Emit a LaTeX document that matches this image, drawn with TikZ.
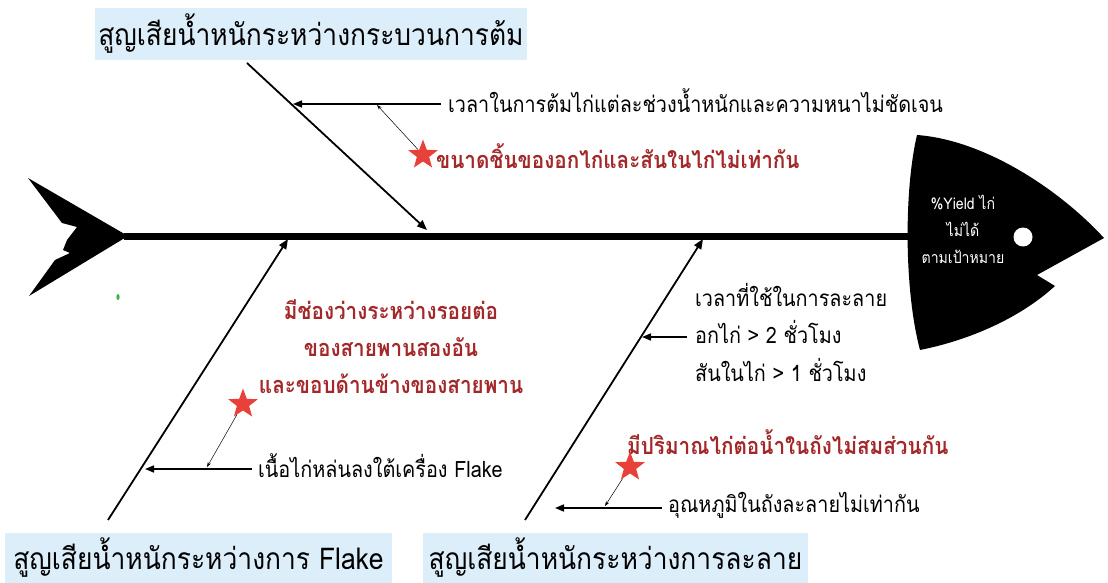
\documentclass[tikz,border=0pt]{standalone}
\usepackage{fontspec}
\usetikzlibrary{arrows.meta,shapes.geometric}
\newfontfamily\thai[Script=Thai,FakeStretch=0.88]{Loma}
\definecolor{boxblue}{HTML}{DDEEFB}
\definecolor{causered}{HTML}{A3282A}
\definecolor{starred}{HTML}{E8413A}
\definecolor{speck}{HTML}{3CB043}
\begin{document}
\begin{tikzpicture}[x=1pt,y=-1pt,
  titlebox/.style={fill=boxblue, inner sep=0pt, font=\thai\fontsize{30}{34}\selectfont},
  causetext/.style={anchor=west, inner sep=2pt, font=\thai\fontsize{22.5}{26}\selectfont},
  redtext/.style={inner sep=2pt, text=causered, font=\thai\bfseries\fontsize{23.5}{27}\selectfont},
  bone/.style={line width=1.8pt, -{Triangle[length=10pt,width=8pt]}},
  subarrow/.style={line width=1.6pt, -{Triangle[length=9pt,width=7pt]}},
  thinarrow/.style={line width=0.5pt, -{Stealth[length=5pt,width=3.5pt]}},
  redstar/.style={star, star points=5, star point ratio=2.4, fill=starred, inner sep=0pt, minimum size=31pt}]
\useasboundingbox (0,0) rectangle (1108,583);

% tail fin
\fill (28,178) -- (128,236) -- (29,296) -- (55,260) -- (70,253) -- (63,250)
  -- (67,240) -- (77,227) -- (62,223) -- cycle;
\fill[speck] (118,297) ellipse (1.6 and 3);

% backbone
\coordinate (spineL) at (124,236);
\coordinate (spineR) at (915,236);
\draw[line width=7pt] (spineL) -- (spineR);

% head
\fill (917,135) .. controls (985,140) and (1060,190) .. (1104,238)
  -- (1037,275) -- (1055,286)
  .. controls (1020,318) and (970,340) .. (920,350)
  .. controls (904,290) and (904,190) .. (917,135) -- cycle;
\fill[white] (1023,237) circle (9.5);
\node[text=white, align=center, font=\thai\fontsize{16}{27}\selectfont] (effect) at (963,229)
  {\%Yield ไก่\\ไม่ได้\\ตามเป้าหมาย};

% ---- boiling branch ----
\node[titlebox, minimum width=432pt, minimum height=52pt] (t1) at (311,34)
  {สูญเสียน้ำหนักระหว่างกระบวนการต้ม};
\coordinate (b1s) at (247,63);
\coordinate (b1e) at (427,230);
\draw[bone] (b1s) -- (b1e);
\node[causetext] (c1) at (446,101) {เวลาในการต้มไก่แต่ละช่วงน้ำหนักและความหนาไม่ชัดเจน};
\coordinate (c1s) at (441,104);
\coordinate (c1e) at (293,104);
\draw[subarrow] (c1s) -- (c1e);
\node[redstar] (s1) at (423,155) {};
\node[redtext, anchor=west] (r1) at (434,156) {ขนาดชิ้นของอกไก่และสันในไก่ไม่เท่ากัน};
\coordinate (m1) at (377,105);
\draw[thinarrow] (s1) -- (m1);

% ---- flake branch ----
\node[titlebox, minimum width=387pt, minimum height=50pt] (t2) at (198.5,558)
  {สูญเสียน้ำหนักระหว่างการ Flake};
\coordinate (b2s) at (108,520);
\coordinate (b2e) at (288,239);
\draw[bone] (b2s) -- (b2e);
\node[redtext, align=center, font=\thai\bfseries\fontsize{23.5}{37}\selectfont] (r2) at (391,347)
  {มีช่องว่างระหว่างรอยต่อ\\ของสายพานสองอัน\\และขอบด้านข้างของสายพาน};
\node[causetext] (c2) at (256,466) {เนื้อไก่หล่นลงใต้เครื่อง Flake};
\coordinate (c2s) at (252,469);
\coordinate (c2e) at (145,469);
\draw[subarrow] (c2s) -- (c2e);
\node[redstar] (s2) at (243,404) {};
\coordinate (m2) at (207,467);
\draw[thinarrow] (s2) -- (m2);

% ---- thawing branch ----
\node[titlebox, minimum width=385pt, minimum height=50pt] (t3) at (615.5,558)
  {สูญเสียน้ำหนักระหว่างการละลาย};
\coordinate (b3s) at (525,520);
\coordinate (b3e) at (703,239);
\draw[bone] (b3s) -- (b3e);
\node[causetext, align=left, font=\thai\fontsize{22.5}{37.5}\selectfont] (c3) at (693,332)
  {เวลาที่ใช้ในการละลาย\\อกไก่ > 2 ชั่วโมง\\สันในไก่ > 1 ชั่วโมง};
\coordinate (c3s) at (687,337);
\coordinate (c3e) at (642,337);
\draw[subarrow] (c3s) -- (c3e);
\node[redtext, anchor=west] (r3) at (625,442) {มีปริมาณไก่ต่อน้ำในถังไม่สมส่วนกัน};
\node[redstar] (s3) at (630,467) {};
\node[causetext] (c4) at (666,505) {อุณหภูมิในถังละลายไม่เท่ากัน};
\coordinate (c4s) at (662,508);
\coordinate (c4e) at (555,508);
\draw[subarrow] (c4s) -- (c4e);
\coordinate (m3) at (605,506);
\draw[thinarrow] (s3) -- (m3);
\end{tikzpicture}
\end{document}
